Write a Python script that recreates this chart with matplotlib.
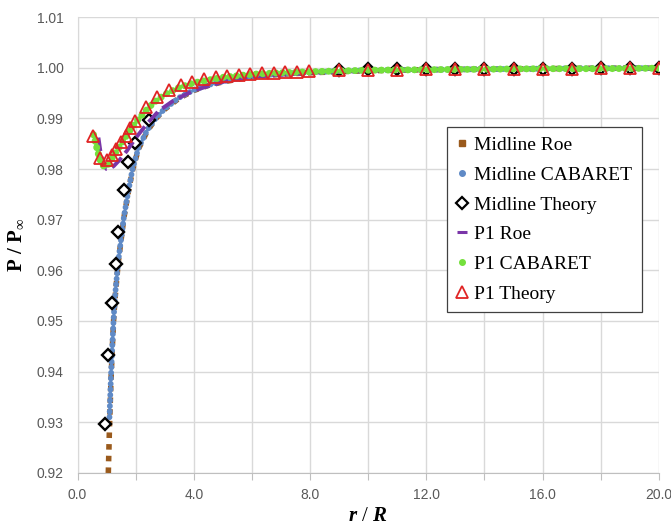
import matplotlib
matplotlib.use("Agg")
import matplotlib.pyplot as plt
from matplotlib.lines import Line2D
import numpy as np

# ---------------- data ----------------
mid_x = [1.06, 1.10, 1.15, 1.20, 1.25, 1.30, 1.40, 1.50, 1.60, 1.75, 1.90, 2.10, 2.40,
         2.70, 3.00, 3.50, 4.00, 4.50, 5.00, 6.00, 7.00, 8.00, 9.00, 10.0, 12.0, 14.0,
         16.0, 18.0, 20.0]
mid_roe_y = [0.920, 0.929, 0.938, 0.945, 0.951, 0.955, 0.9615, 0.966, 0.9705, 0.9755,
             0.980, 0.984, 0.9875, 0.990, 0.9918, 0.9940, 0.9955, 0.9965, 0.9972, 0.9982,
             0.9987, 0.9990, 0.9992, 0.9994, 0.9996, 0.9997, 0.9998, 0.9999, 0.9999]
mid_cab_x = [1.10, 1.15, 1.20, 1.25, 1.30, 1.40, 1.50, 1.60, 1.75, 1.90, 2.10, 2.40,
             2.70, 3.00, 3.50, 4.00, 4.50, 5.00, 6.00, 7.00, 8.00, 9.00, 10.0, 12.0, 14.0,
             16.0, 18.0, 20.0]
mid_cab_y = [0.931, 0.939, 0.9455, 0.9512, 0.9555, 0.9617, 0.9662, 0.9707, 0.9757,
             0.9802, 0.9842, 0.9877, 0.9901, 0.9919, 0.9941, 0.9956, 0.9966, 0.9973,
             0.9983, 0.9988, 0.9991, 0.9993, 0.9995, 0.9996, 0.9997, 0.9998, 0.9999, 0.9999]

mid_th_x = [0.95, 1.06, 1.17, 1.31, 1.40, 1.59, 1.75, 1.98, 2.45,
            9, 10, 11, 12, 13, 14, 15, 16, 17, 18, 19, 20]
mid_th_y = [0.9296, 0.9433, 0.9536, 0.9612, 0.9675, 0.9758, 0.9813, 0.9852, 0.9897,
            0.9996, 0.9997, 0.9997, 0.9997, 0.9998, 0.9998, 0.9998, 0.9998, 0.9998,
            0.9999, 0.9999, 0.9999]

p1_roe_x = [0.72, 0.80, 0.90, 1.00, 1.10, 1.25, 1.45, 1.70, 2.00, 2.40, 2.80, 3.30,
            4.00, 5.00, 6.00, 8.00, 10.0, 12.0, 14.0, 16.0, 18.0, 20.0]
p1_roe_y = [0.9862, 0.9830, 0.9808, 0.9800, 0.9800, 0.9806, 0.9818, 0.9836, 0.9861,
            0.9890, 0.9915, 0.9935, 0.9955, 0.9972, 0.9982, 0.9990, 0.9994, 0.9996,
            0.9997, 0.9998, 0.9998, 0.9999]

p1_cab_x = [0.55, 0.65, 0.75, 0.85, 0.95, 1.05, 1.20, 1.40, 1.60, 1.80, 2.00, 2.30,
            2.60, 3.00, 3.50, 4.00, 5.00, 6.00, 7.00, 8.00, 10.0, 12.0, 14.0, 16.0, 18.0, 20.0]
p1_cab_y = [0.9868, 0.9845, 0.9822, 0.9808, 0.9804, 0.9808, 0.9822, 0.9840, 0.9858,
            0.9876, 0.9892, 0.9912, 0.9930, 0.9947, 0.9961, 0.9970, 0.9981, 0.9987,
            0.9990, 0.9992, 0.9995, 0.9996, 0.9997, 0.9998, 0.9998, 0.9999]

p1_th_x = [0.55, 0.78, 1.00, 1.17, 1.33, 1.50, 1.66, 1.82, 1.98, 2.35, 2.75, 3.15,
           3.55, 3.95, 4.35, 4.75, 5.15, 5.55, 5.95, 6.35, 6.75, 7.15, 7.55, 7.95,
           9, 10, 11, 12, 13, 14, 15, 16, 17, 18, 19, 20]
p1_th_y = [0.9865, 0.9821, 0.9818, 0.9828, 0.9840, 0.9853, 0.9866, 0.9880, 0.9895,
           0.9922, 0.9942, 0.9956, 0.9965, 0.9972, 0.9977, 0.9981, 0.9984, 0.9986,
           0.9988, 0.9989, 0.9990, 0.9991, 0.9992, 0.9993, 0.9995, 0.9996, 0.9996,
           0.9997, 0.9997, 0.9997, 0.9998, 0.9998, 0.9998, 0.9999, 0.9999, 0.9999]

labels = ["Midline Roe", "Midline CABARET", "Midline Theory", "P1 Roe", "P1 CABARET", "P1 Theory"]
x_ticks = [0, 4, 8, 12, 16, 20]
y_ticks = [0.92, 0.93, 0.94, 0.95, 0.96, 0.97, 0.98, 0.99, 1.00, 1.01]

# ---------------- style ----------------
plt.rcParams['mathtext.fontset'] = 'custom'
plt.rcParams['mathtext.rm'] = 'Liberation Serif'
plt.rcParams['mathtext.bf'] = 'Liberation Serif:bold'
plt.rcParams['mathtext.it'] = 'Liberation Serif:italic:bold'

c_roe = '#9a5a1c'
c_cab = '#5f8ac6'
c_p1roe = '#7a35a8'
c_p1cab = '#74e03c'
c_red = '#e02424'

fig = plt.figure(figsize=(6.71, 5.27), dpi=100)
ax = fig.add_axes([0.1155, 0.1025, 0.8665, 0.8652])

ax.plot(mid_x, mid_roe_y, color=c_roe, lw=4.0, ls=(0, (1, 1.1)), dash_capstyle='butt', zorder=3)
ax.plot(mid_cab_x, mid_cab_y, color=c_cab, lw=4.2, ls=(0, (0.05, 0.9)), dash_capstyle='round', zorder=4)
ax.plot(mid_th_x, mid_th_y, ls='none', marker='D', ms=6, mfc='white', mec='black', mew=1.7, zorder=5)
ax.plot(p1_roe_x, p1_roe_y, color=c_p1roe, lw=2.8, ls=(0, (3.5, 1.5)), zorder=6)
ax.plot(p1_cab_x, p1_cab_y, color=c_p1cab, lw=5.0, ls=(0, (0.05, 0.9)), dash_capstyle='round', zorder=7)
ax.plot(p1_th_x, p1_th_y, ls='none', marker='^', ms=9, mfc='none', mec=c_red, mew=1.3, zorder=8)

ax.set_xlim(0, 20)
ax.set_ylim(0.92, 1.01)
ax.set_xticks(np.arange(0, 20.01, 2))
ax.set_xticklabels(["%.1f" % v if v in x_ticks else "" for v in np.arange(0, 20.01, 2)])
ax.set_yticks(y_ticks)
ax.set_yticklabels(["%.2f" % v for v in y_ticks])
ax.grid(True, color='#d9d9d9', lw=1.0)
ax.set_axisbelow(True)
for s in ['top', 'right']:
    ax.spines[s].set_visible(False)
ax.spines['left'].set_color('#d9d9d9')
ax.spines['bottom'].set_color('#bfbfbf')
ax.tick_params(axis='y', length=0, pad=10, labelsize=10, labelcolor='#595959')
ax.tick_params(axis='x', length=5, direction='out', color='#bfbfbf', pad=6,
               labelsize=10, labelcolor='#595959')
for t in ax.get_xticklabels() + ax.get_yticklabels():
    t.set_family('Liberation Sans')

ax.set_xlabel(r'$\mathit{r\ /\ R}$', fontsize=15, labelpad=2)
ax.set_ylabel(r'$\mathbf{P\ /\ P}_{\infty}$', fontsize=15, labelpad=8)

handles = [
    Line2D([], [], ls='none', marker='s', ms=4, color=c_roe),
    Line2D([], [], ls='none', marker='o', ms=4, color=c_cab),
    Line2D([], [], ls='none', marker='D', ms=6, mfc='white', mec='black', mew=1.6),
    Line2D([], [], ls='none', marker='_', ms=7, mew=2.2, color=c_p1roe),
    Line2D([], [], ls='none', marker='o', ms=4, color=c_p1cab),
    Line2D([], [], ls='none', marker='^', ms=8, mfc='none', mec=c_red, mew=1.3),
]
leg = ax.legend(handles, labels, loc='upper left', bbox_to_anchor=(0.635, 0.759),
                prop={'family': 'Liberation Serif', 'size': 14}, frameon=True, fancybox=False,
                edgecolor='#404040', framealpha=1, handlelength=0.6, handletextpad=0.3,
                labelspacing=0.62, borderpad=0.5, borderaxespad=0)
leg.get_frame().set_linewidth(0.9)
leg.set_zorder(20)

fig.savefig('out.png', dpi=100)
